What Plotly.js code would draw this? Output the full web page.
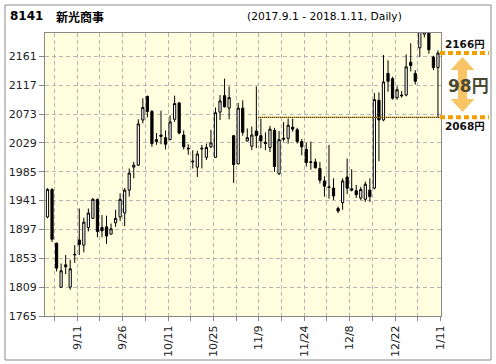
<!DOCTYPE html>
<html><head><meta charset="utf-8">
<script src="https://cdn.plot.ly/plotly-3.0.1.min.js"></script>
<style>html,body{margin:0;padding:0;background:#fff}#c{width:496px;height:364px}</style>
</head><body><div id="c"></div>
<script>
const dates = ['9/1','9/4','9/5','9/6','9/7','9/8','9/11','9/12','9/13','9/14','9/15','9/19','9/20','9/21','9/22','9/25','9/26','9/27','9/28','9/29','10/2','10/3','10/4','10/5','10/6','10/10','10/11','10/12','10/13','10/16','10/17','10/18','10/19','10/20','10/23','10/24','10/25','10/26','10/27','10/30','10/31','11/1','11/2','11/6','11/7','11/8','11/9','11/10','11/13','11/14','11/15','11/16','11/17','11/20','11/21','11/22','11/24','11/27','11/28','11/29','11/30','12/1','12/4','12/5','12/6','12/7','12/8','12/11','12/12','12/13','12/14','12/15','12/18','12/19','12/20','12/21','12/22','12/25','12/26','12/27','12/28','12/29','1/4','1/5','1/9','1/10','1/11'];
const openP  = [1916,1958,1876,1809,1843,1809,1858,1881,1873,1900,1914,1943,1900,1901,1890,1907,1916,1922,1957,1992,1995,2064,2100,2077,2031,2041,2037,2034,2065,2090,2041,2021,2000,1992,2021,2007,2023,2007,2076,2101,2082,2040,1997,2082,2032,2024,2047,2040,2030,2022,2048,1982,2036,2036,2053,2049,2031,2019,1999,2000,1990,1971,1962,1960,1929,1938,1977,1959,1956,1945,1943,1957,1960,2094,2064,2135,2127,2098,2102,2102,2152,2135,2174,2195,2205,2160,2144];
const highP  = [1960,1960,1877,1845,1858,1851,1873,1929,1915,1929,1945,1944,1919,1918,1906,1927,1952,1960,1990,2000,2065,2097,2101,2079,2044,2078,2048,2071,2101,2091,2048,2027,2018,2017,2026,2028,2049,2083,2102,2127,2115,2041,2090,2094,2051,2054,2115,2066,2045,2055,2052,2047,2061,2066,2066,2052,2035,2029,2031,2005,2000,1978,2026,1975,1932,1975,2005,1989,1965,1962,1970,1975,2105,2106,2163,2155,2130,2115,2108,2164,2181,2140,2215,2215,2215,2162,2170];
const lowP   = [1914,1878,1833,1808,1829,1805,1846,1858,1862,1894,1913,1885,1885,1875,1889,1901,1910,1902,1947,1975,1994,2059,2068,2023,2026,2027,2019,2033,2061,2042,2019,2011,1990,1977,1990,2003,2021,2006,2064,2083,2065,1968,1996,2040,2031,2018,2021,2021,2018,2015,1985,1980,2031,2028,2046,2028,2010,1993,1988,1990,1967,1947,1944,1942,1922,1927,1951,1955,1945,1942,1939,1939,1958,2001,2062,2107,2095,2095,2098,2100,2138,2118,2160,2190,2165,2140,2068];
const closeP = [1958,1882,1838,1834,1840,1837,1859,1874,1908,1922,1943,1894,1895,1887,1898,1914,1943,1957,1983,1995,2058,2083,2077,2028,2034,2039,2027,2061,2089,2044,2023,2020,2001,2012,2020,2022,2029,2075,2093,2084,2098,1996,2082,2045,2037,2041,2040,2032,2028,2050,1993,2034,2035,2056,2050,2031,2023,1999,2000,1991,1972,1963,1961,1948,1925,1971,1960,1957,1950,1958,1966,1947,2095,2064,2122,2123,2097,2110,2101,2145,2147,2123,2205,2205,2171,2144,2166];
const tickLabels = ['9/11','9/26','10/11','10/25','11/9','11/24','12/8','12/22','1/11'];
const yTicks = [1765,1809,1853,1897,1941,1985,2029,2073,2117,2161];
const rangeHigh = 2166, rangeLow = 2068, rangeDiff = 98;
const stockCode = '8141', stockName = '新光商事', period = '(2017.9.1 - 2018.1.11, Daily)';

const xi = dates.map((d,i)=>i);
const OFF = 0.55;
const majorPos = tickLabels.map(t => dates.indexOf(t) + OFF);
const minorPos = [];
for (let i = 1; i < dates.length; i += 5) minorPos.push(i + OFF);

const trace = {
  type:'candlestick', x:xi, open:openP, high:highP, low:lowP, close:closeP,
  increasing:{line:{color:'#000', width:1}, fillcolor:'#ffffff'},
  decreasing:{line:{color:'#000', width:1}, fillcolor:'#000000'},
  whiskerwidth:0, hoverinfo:'skip', showlegend:false
};

const L=45, R=441, T=33, B=316;
const px = p => (p-L)/(R-L);
const py = p => (B-p)/(B-T);
const FONT = 'DejaVu Sans, "Noto Sans CJK JP", sans-serif';

const cx=462.5, ty=57, by=112, hh=13, hw=12, sw=4.5;
const pts = [[cx,ty],[cx+hw,ty+hh],[cx+sw,ty+hh],[cx+sw,by-hh],[cx+hw,by-hh],[cx,by],[cx-hw,by-hh],[cx-sw,by-hh],[cx-sw,ty+hh],[cx-hw,ty+hh]];
const arrowPath = 'M' + pts.map(p=>px(p[0]).toFixed(4)+','+py(p[1]).toFixed(4)).join(' L') + ' Z';

const grid = {gridcolor:'#b5b5b5', griddash:'4px,3px', gridwidth:1};
const layout = {
  width:496, height:364,
  margin:{l:L, r:496-R, t:T, b:364-B, pad:0},
  paper_bgcolor:'#ffffff', plot_bgcolor:'#ffffe0',
  showlegend:false, boxgap:0.3, hovermode:false,
  font:{family:FONT, size:11, color:'#222'},
  xaxis:Object.assign({
    type:'linear', range:[-0.55, 86.67], fixedrange:true,
    rangeslider:{visible:false},
    showline:true, mirror:true, linecolor:'#888', linewidth:1,
    tickmode:'array', tickvals:majorPos, ticktext:tickLabels, tickangle:-90,
    ticks:'outside', ticklen:4, tickcolor:'#888', tickwidth:1,
    showgrid:true, zeroline:false,
    tickfont:{family:FONT, size:11, color:'#222'},
    minor:{tickmode:'array', tickvals:minorPos, ticks:'outside', ticklen:4, tickcolor:'#888', showgrid:true, gridcolor:'#b5b5b5', griddash:'4px,3px'}
  }, grid),
  yaxis:Object.assign({
    range:[1765, 2196.6], fixedrange:true,
    showline:true, mirror:true, linecolor:'#888', linewidth:1,
    tickmode:'array', tickvals:yTicks, ticks:'outside', ticklen:5, tickcolor:'#888',
    showgrid:true, zeroline:false,
    tickfont:{family:FONT, size:11, color:'#222'}
  }, grid),
  shapes:[
    {type:'rect', xref:'paper', yref:'paper', x0:px(5), x1:px(491), y0:py(360), y1:py(5), line:{color:'#8a8a8a', width:1}, fillcolor:'rgba(0,0,0,0)', layer:'below'},
    {type:'line', xref:'x', yref:'y', x0:46.4, x1:86.67, y0:rangeLow, y1:rangeLow, line:{color:'#f0a800', width:1}},
    {type:'line', xref:'x', yref:'y', x0:46.4, x1:86.67, y0:rangeLow, y1:rangeLow, line:{color:'#000', width:1, dash:'1px,1px'}},
    {type:'line', xref:'paper', yref:'y', x0:px(440), x1:px(489), y0:rangeHigh, y1:rangeHigh, line:{color:'#f5a000', width:4, dash:'5px,3px'}},
    {type:'line', xref:'paper', yref:'y', x0:px(440), x1:px(489), y0:rangeLow, y1:rangeLow, line:{color:'#f5a000', width:4, dash:'5px,3px'}},
    {type:'path', xref:'paper', yref:'paper', path:arrowPath, fillcolor:'rgba(245,165,20,0.65)', line:{width:0}}
  ],
  annotations:[
    {xref:'paper', yref:'paper', x:px(8), y:py(16), xanchor:'left', yanchor:'middle', text:'<b>'+stockCode+'</b>', showarrow:false, font:{family:FONT, size:12, color:'#000'}},
    {xref:'paper', yref:'paper', x:px(54), y:py(16), xanchor:'left', yanchor:'middle', text:'<b>'+stockName+'</b>', showarrow:false, font:{family:'"Noto Sans CJK JP", sans-serif', size:12, color:'#000'}},
    {xref:'paper', yref:'paper', x:px(245), y:py(16), xanchor:'left', yanchor:'middle', text:period, showarrow:false, font:{family:FONT, size:10.7, color:'#000'}},
    {xref:'paper', yref:'paper', x:px(443), y:py(44), xanchor:'left', yanchor:'middle', text:'<b>'+rangeHigh+'円</b>', showarrow:false, font:{family:FONT, size:10.5, color:'#111'}},
    {xref:'paper', yref:'paper', x:px(443), y:py(126), xanchor:'left', yanchor:'middle', text:'<b>'+rangeLow+'円</b>', showarrow:false, font:{family:FONT, size:10.5, color:'#111'}},
    {xref:'paper', yref:'paper', x:px(468.5), y:py(86), xanchor:'center', yanchor:'middle', text:'<b>'+rangeDiff+'円</b>', showarrow:false, font:{family:FONT, size:17, color:'#4a4a30'}}
  ]
};
Plotly.newPlot('c', [trace], layout, {staticPlot:true, displayModeBar:false});
</script></body></html>
